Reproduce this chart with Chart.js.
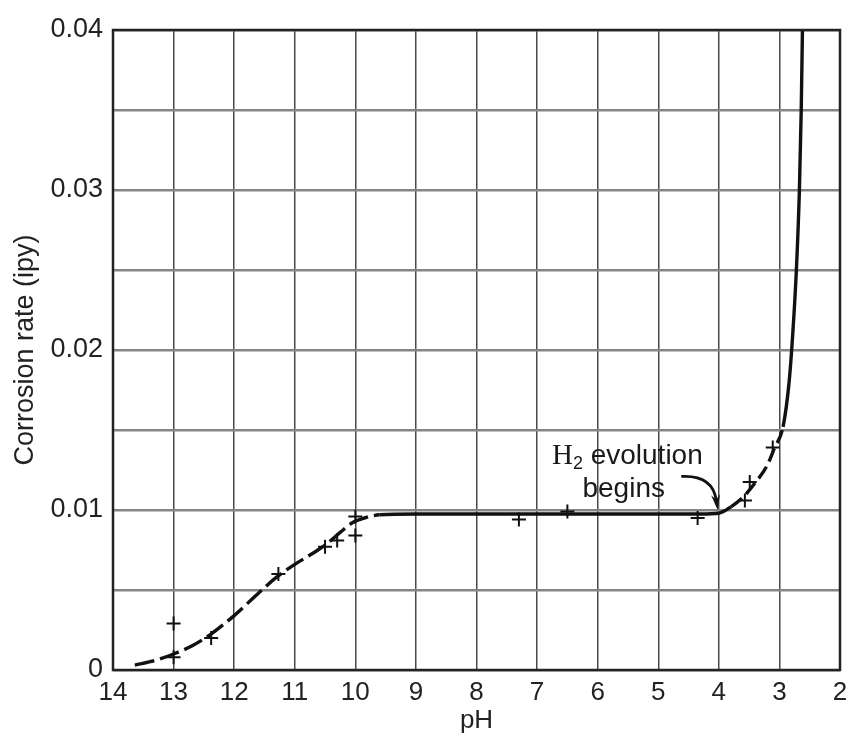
<!DOCTYPE html>
<html><head><meta charset="utf-8">
<script src="https://cdn.jsdelivr.net/npm/chart.js@4.4.1/dist/chart.umd.min.js"></script>
<style>html,body{margin:0;padding:0;background:#fff}</style>
</head><body>
<canvas id="c" width="849" height="736"></canvas>
<script>
// ---- data ----
const curvePH   = [13.64, 13.3, 13.0, 12.7, 12.4, 12.0, 11.6, 11.3, 11.0, 10.7, 10.5, 10.25, 10.05, 9.85, 9.6, 9.0, 8.0, 7.0, 6.0, 5.0, 4.3, 4.0, 3.8, 3.6, 3.4, 3.2, 3.08, 2.94, 2.84, 2.78, 2.72, 2.67, 2.64, 2.62];
const curveRate = [0.0003, 0.0006, 0.001, 0.0015, 0.0022, 0.0034, 0.0048, 0.0058, 0.0066, 0.0073, 0.0078, 0.0086, 0.0092, 0.0095, 0.0097, 0.00975, 0.00975, 0.00975, 0.00975, 0.00975, 0.00975, 0.0098, 0.0102, 0.0108, 0.0117, 0.0128, 0.0139, 0.0152, 0.018, 0.021, 0.025, 0.03, 0.035, 0.04];
const pointPH   = [13.0, 13.0, 12.38, 11.27, 10.5, 10.3, 10.0, 10.0, 7.3, 6.5, 4.35, 3.57, 3.49, 3.11];
const pointRate = [0.0029, 0.0008, 0.002, 0.006, 0.0077, 0.0081, 0.0084, 0.0096, 0.0094, 0.0099, 0.0095, 0.0106, 0.01175, 0.0139];
const xTickValues = [14, 13, 12, 11, 10, 9, 8, 7, 6, 5, 4, 3, 2];
const yTickValues = [0, 0.01, 0.02, 0.03, 0.04];
const yTickLabels = ['0', '0.01', '0.02', '0.03', '0.04'];
const xTitle = 'pH';
const yTitle = 'Corrosion rate (ipy)';
const noteLine1 = 'evolution';
const noteLine2 = 'begins';

const curveData = curvePH.map((x, i) => ({x, y: curveRate[i]}));
const pointData = pointPH.map((x, i) => ({x, y: pointRate[i]}));

const SANS = '"Liberation Sans", Arial, sans-serif';
const SERIF = '"Liberation Serif", "Times New Roman", serif';

const bgPlugin = {
  id: 'bg',
  beforeDraw(chart) {
    const ctx = chart.ctx;
    ctx.save();
    ctx.fillStyle = '#fff';
    ctx.fillRect(0, 0, chart.width, chart.height);
    ctx.restore();
  }
};

const framePlugin = {
  id: 'frame',
  afterDatasetsDraw(chart) {
    const {ctx, chartArea: a, scales} = chart;
    const xs = scales.x, ys = scales.y;
    ctx.save();
    // frame
    ctx.strokeStyle = '#222';
    ctx.lineWidth = 2.5;
    ctx.strokeRect(a.left, a.top, a.right - a.left, a.bottom - a.top);

    // annotation text
    ctx.fillStyle = '#1a1a1a';
    ctx.textBaseline = 'alphabetic';
    const cx1 = xs.getPixelForValue(5.51);
    const by1 = ys.getPixelForValue(0.0129);
    ctx.font = '29px ' + SERIF;
    const wH = ctx.measureText('H').width;
    ctx.font = '18px ' + SANS;
    const w2 = ctx.measureText('2').width;
    ctx.font = '28px ' + SANS;
    const wE = ctx.measureText(' ' + noteLine1).width;
    let x0 = cx1 - (wH + w2 + wE) / 2;
    ctx.textAlign = 'left';
    ctx.font = '29px ' + SERIF;
    ctx.fillText('H', x0, by1);
    ctx.font = '18px ' + SANS;
    ctx.fillText('2', x0 + wH, by1 + 5);
    ctx.font = '28px ' + SANS;
    ctx.fillText(' ' + noteLine1, x0 + wH + w2, by1);
    ctx.textAlign = 'center';
    ctx.fillText(noteLine2, xs.getPixelForValue(5.57), ys.getPixelForValue(0.0108));

    // arrow
    const sx = xs.getPixelForValue(4.62), sy = ys.getPixelForValue(0.0121);
    const qx = xs.getPixelForValue(4.1), qy = ys.getPixelForValue(0.0122);
    const ex = xs.getPixelForValue(4.02), ey = ys.getPixelForValue(0.0100);
    const a2 = Math.atan2(ey - qy, ex - qx);
    const L = 16, W = 0.28;
    ctx.strokeStyle = '#111';
    ctx.lineWidth = 2.8;
    ctx.beginPath();
    ctx.moveTo(sx, sy);
    ctx.quadraticCurveTo(qx, qy, ex - 0.6 * L * Math.cos(a2), ey - 0.6 * L * Math.sin(a2));
    ctx.stroke();
    ctx.fillStyle = '#111';
    ctx.beginPath();
    ctx.moveTo(ex, ey);
    ctx.lineTo(ex - L * Math.cos(a2 - W), ey - L * Math.sin(a2 - W));
    ctx.lineTo(ex - L * 0.65 * Math.cos(a2), ey - L * 0.65 * Math.sin(a2));
    ctx.lineTo(ex - L * Math.cos(a2 + W), ey - L * Math.sin(a2 + W));
    ctx.closePath();
    ctx.fill();
    ctx.restore();
  }
};

const dashed = (ctx) => {
  const x0 = ctx.p0.parsed.x;
  if (x0 > 9.65) return [20, 6];
  if (x0 <= 3.85 && x0 > 3.0) return [14, 6];
  return undefined;
};

new Chart(document.getElementById('c'), {
  type: 'scatter',
  data: {
    datasets: [
      {
        type: 'scatter',
        data: pointData,
        pointStyle: 'cross',
        pointRadius: 7,
        pointBorderWidth: 2,
        borderColor: '#111',
        backgroundColor: '#111',
        order: 0
      },
      {
        type: 'line',
        data: curveData,
        borderColor: '#111',
        borderWidth: 3.4,
        pointRadius: 0,
        fill: false,
        cubicInterpolationMode: 'monotone',
        segment: { borderDash: dashed },
        order: 1
      }
    ]
  },
  options: {
    responsive: false,
    animation: false,
    devicePixelRatio: 1,
    layout: { padding: { top: 30, right: 9, left: 0, bottom: 0 } },
    plugins: { legend: { display: false }, tooltip: { enabled: false } },
    scales: {
      x: {
        type: 'linear',
        min: 2, max: 14, reverse: true,
        afterFit(s) { s.height = 66; s.paddingRight = 0; s.paddingLeft = 0; },
        afterBuildTicks(s) { s.ticks = xTickValues.map(v => ({value: v})); },
        ticks: {
          color: '#222', padding: 7,
          font: { family: SANS, size: 26 },
          callback: (v) => String(v),
          maxRotation: 0, autoSkip: false
        },
        grid: { color: '#4a4a4a', lineWidth: 1.5, drawTicks: false },
        border: { display: false },
        title: {
          display: true, text: xTitle, color: '#222',
          font: { family: SANS, size: 26 },
          padding: { top: 0, bottom: 0 }
        }
      },
      y: {
        type: 'linear',
        min: 0, max: 0.04,
        afterFit(s) { s.width = 113; s.paddingTop = 0; s.paddingBottom = 0; },
        ticks: {
          stepSize: 0.005, color: '#222', padding: 10,
          font: { family: SANS, size: 27 },
          autoSkip: false,
          callback: (v) => {
            const i = yTickValues.findIndex(t => Math.abs(t - v) < 1e-9);
            return i >= 0 ? yTickLabels[i] : '';
          }
        },
        grid: { color: '#858585', lineWidth: 2.5, drawTicks: false },
        border: { display: false },
        title: {
          display: true, text: yTitle, color: '#222',
          font: { family: SANS, size: 27 },
          padding: { top: 9, bottom: 0 }
        }
      }
    }
  },
  plugins: [bgPlugin, framePlugin]
});
</script>
</body></html>
